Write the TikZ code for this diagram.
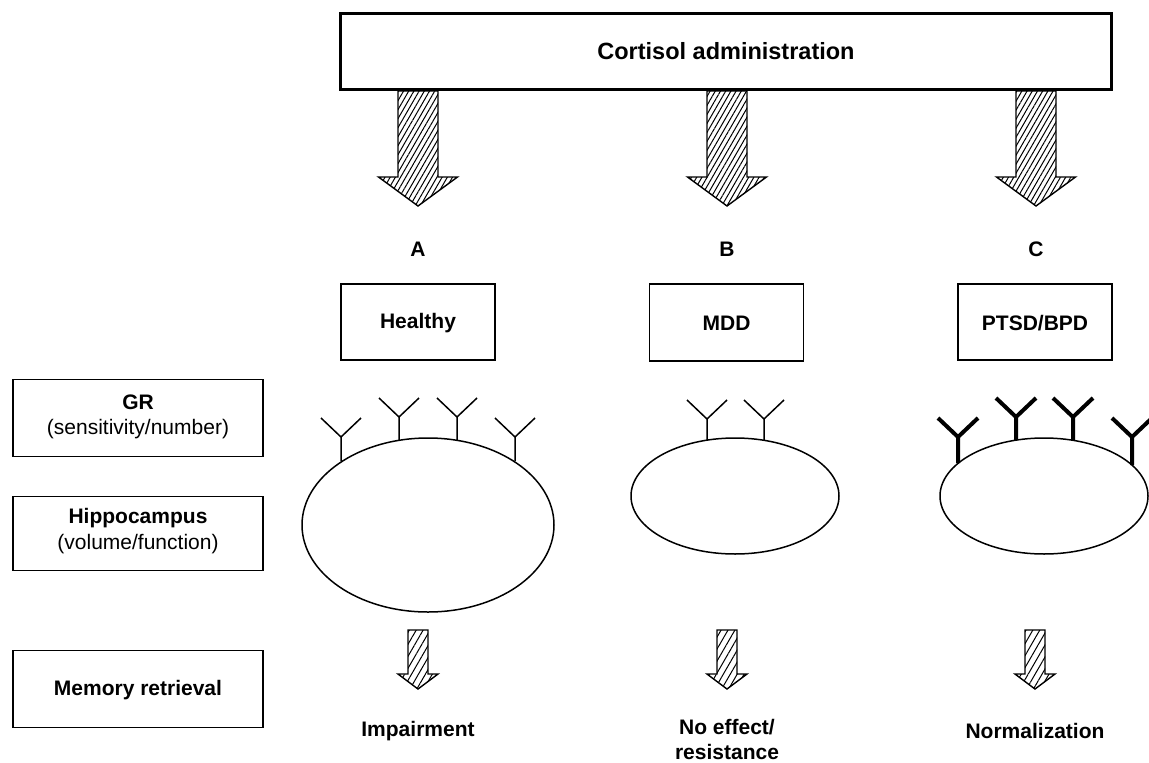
\documentclass[tikz,border=0pt]{standalone}
\usepackage{fontspec}
\setmainfont{Liberation Sans}
\usetikzlibrary{patterns.meta}
\begin{document}
\begin{tikzpicture}[x=1pt,y=-1pt,
  txt/.style={font=\fontsize{21}{25}\selectfont\bfseries, align=center, inner sep=0pt},
  sub/.style={font=\fontsize{21}{26}\selectfont, align=center, inner sep=0pt},
  topbox/.style={draw, line width=3pt, minimum width=771pt, minimum height=76pt, inner sep=0pt},
  grpbox/.style={draw, line width=2.3pt, minimum width=154pt, minimum height=76pt, inner sep=0pt},
  thinbox/.style={draw, line width=1.7pt, minimum width=154pt, minimum height=77pt, inner sep=0pt},
  sidebox/.style={draw, line width=1.8pt, minimum width=250pt, minimum height=76pt, inner sep=0pt},
  bighatch/.style={draw, line width=1.4pt, line join=miter, pattern={Lines[angle=60,distance=4.5pt,line width=1pt]}},
  smallhatch/.style={draw, line width=1.4pt, line join=miter, pattern={Lines[angle=60,distance=6pt,line width=1pt]}},
  hippo/.style={draw, line width=1.5pt},
  thinrec/.style={line width=1.5pt},
  thickrec/.style={line width=4pt}
]
\useasboundingbox (0,0) rectangle (1149,763);
\fill[white] (0,0) rectangle (1149,763);

% arrows from the top box (drawn first, box on top)
\foreach \cx in {418,727,1036}{
  \draw[bighatch] (\cx-20,91) -- (\cx-20,177) -- (\cx-39.5,177) -- (\cx,206) -- (\cx+39.5,177) -- (\cx+20,177) -- (\cx+20,91) -- cycle;
}
\node[topbox, fill=white] (cort) at (726,51.5) {};
\node[font=\fontsize{23.5}{28}\selectfont\bfseries] (corttxt) at (726,51) {Cortisol administration};

% group letters
\node[txt] (la) at (418,249) {A};
\node[txt] (lb) at (727,249) {B};
\node[txt] (lc) at (1036,249) {C};

% group boxes
\node[grpbox] (healthy) at (418,322) {};
\node[txt] (healthytxt) at (418,323) {Healthy};
\node[thinbox] (mdd) at (726.5,322.5) {};
\node[txt] (mddtxt) at (726.5,323) {MDD};
\node[grpbox] (ptsd) at (1035,322) {};
\node[txt] (ptsdtxt) at (1035,323) {PTSD/BPD};

% side boxes
\node[sidebox, minimum height=77pt] (gr) at (138,418) {};
\node[txt] (grtxt) at (138,402) {GR};
\node[sub] (grsub) at (138,429) {(sensitivity/number)};
\node[sidebox, minimum height=74pt] (hip) at (138,533.5) {};
\node[txt] (hiptxt) at (138,518) {Hippocampus};
\node[sub] (hipsub) at (138,544) {(volume/function)};
\node[sidebox, minimum height=77pt] (mem) at (138,689) {};
\node[txt] (memtxt) at (138,690) {Memory retrieval};

% hippocampi
\draw[hippo] (428,525) ellipse [x radius=126pt, y radius=87pt];
\draw[hippo] (735,496) ellipse [x radius=104pt, y radius=58pt];
\draw[hippo] (1044,496) ellipse [x radius=104pt, y radius=58pt];

% receptors: x, base, junction
\foreach \x/\b/\j in {341/461/437, 399/440/417, 457/440/417, 515/461/437, 707/440/419, 764/440/419}{
  \draw[thinrec] (\x,\b) -- (\x,\j) (\x-20,\j-19) -- (\x,\j) -- (\x+20,\j-19);
}
\foreach \x/\b/\j in {958/463/437, 1016/440/417, 1073/440/417, 1132/465/437}{
  \draw[thickrec] (\x,\b) -- (\x,\j) (\x-20,\j-19) -- (\x,\j) -- (\x+20,\j-19);
}

% small arrows
\foreach \cx in {418,727,1035}{
  \draw[smallhatch] (\cx-10,630) -- (\cx-10,674) -- (\cx-20,674) -- (\cx,689) -- (\cx+20,674) -- (\cx+10,674) -- (\cx+10,630) -- cycle;
}

% outcomes
\node[txt] (imp) at (418,731) {Impairment};
\node[txt] (noeff) at (727,739) {No effect/\\resistance};
\node[txt] (norm) at (1035,731) {Normalization};
\end{tikzpicture}
\end{document}
